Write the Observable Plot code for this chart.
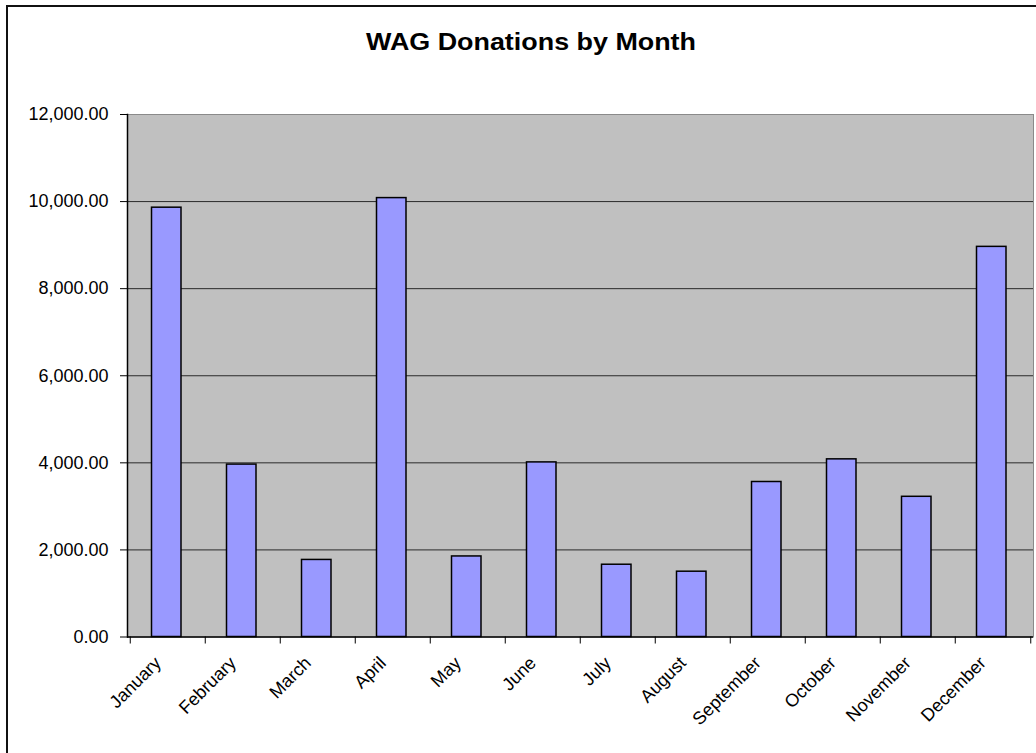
<!DOCTYPE html>
<html>
<head>
<meta charset="utf-8">
<script src="https://cdn.jsdelivr.net/npm/d3@7"></script>
<script src="https://cdn.jsdelivr.net/npm/@observablehq/plot@0.6"></script>
<style>
  html, body { margin: 0; padding: 0; background: #fff; }
  #wrap { position: relative; width: 1036px; height: 753px; overflow: hidden; font-family: "Liberation Sans", Arial, sans-serif; }
  #border { position: absolute; left: 6px; top: 5px; width: 1100px; height: 746px; border-left: 2px solid #111; border-top: 2px solid #111; border-bottom: 1px solid #cfcfcf; pointer-events: none; }
  #title { position: absolute; left: 0; top: 30px; width: 1062px; text-align: center; font-size: 24px; line-height: 24px; font-weight: bold; color: #000; transform: scaleX(1.12); transform-origin: 531px 0; }
  svg { position: absolute; left: 0; top: 0; }
</style>
</head>
<body>
<div id="wrap">
  <div id="title">WAG Donations by Month</div>
  <div id="border"></div>
</div>
<script>
const months = ["January","February","March","April","May","June","July","August","September","October","November","December"];
const donations = [9860, 3960, 1770, 10080, 1850, 4010, 1660, 1500, 3560, 4080, 3220, 8960];
const yTicks = [0, 2000, 4000, 6000, 8000, 10000, 12000];
const gridValues = [2000, 4000, 6000, 8000, 10000];
const chartTitle = "WAG Donations by Month";

const data = months.map((m, i) => ({month: m, value: donations[i]}));
const W = 1036, H = 753;
const mL = 127, mR = 3, mT = 114, mB = 116.5;
const band = (W - mL - mR) / months.length;

const chart = Plot.plot({
  width: W,
  height: H,
  marginLeft: mL,
  marginRight: mR,
  marginTop: mT,
  marginBottom: mB,
  style: {fontFamily: "'Liberation Sans', Arial, sans-serif", fontSize: "18px", color: "#000", background: "transparent", overflow: "visible"},
  x: {domain: months, padding: 0, label: null},
  y: {domain: [0, 12000], label: null},
  marks: [
    Plot.frame({fill: "#C0C0C0", stroke: "#8a8a8a"}),
    Plot.ruleY(gridValues, {stroke: "#2a2a2a", strokeWidth: 1}),
    Plot.barY(data, {x: "month", y: "value", fill: "#9999FF", stroke: "#000", strokeWidth: 1.5, insetLeft: 21.5, insetRight: 24}),
    Plot.ruleY([0], {stroke: "#000", strokeWidth: 1.5}),
    Plot.frame({anchor: "left", stroke: "#000", strokeWidth: 1.5}),
    Plot.axisY({ticks: yTicks, tickSize: 7, tickPadding: 12, tickFormat: d3.format(",.2f"), label: null, stroke: "#000", fill: "#000"}),
    Plot.axisX({ticks: months, tickSize: 7, tickFormat: () => "", label: null, dx: -band / 2, stroke: "#000"}),
    Plot.axisX({ticks: [months[months.length - 1]], tickSize: 7, tickFormat: () => "", label: null, dx: band / 2, stroke: "#000"}),
    Plot.axisX({ticks: months, tickSize: 0, tickPadding: 18, tickRotate: -45, label: null, dx: -10, dy: 5, fill: "#000"})
  ]
});
document.getElementById("wrap").insertBefore(chart, document.getElementById("title"));
</script>
</body>
</html>
